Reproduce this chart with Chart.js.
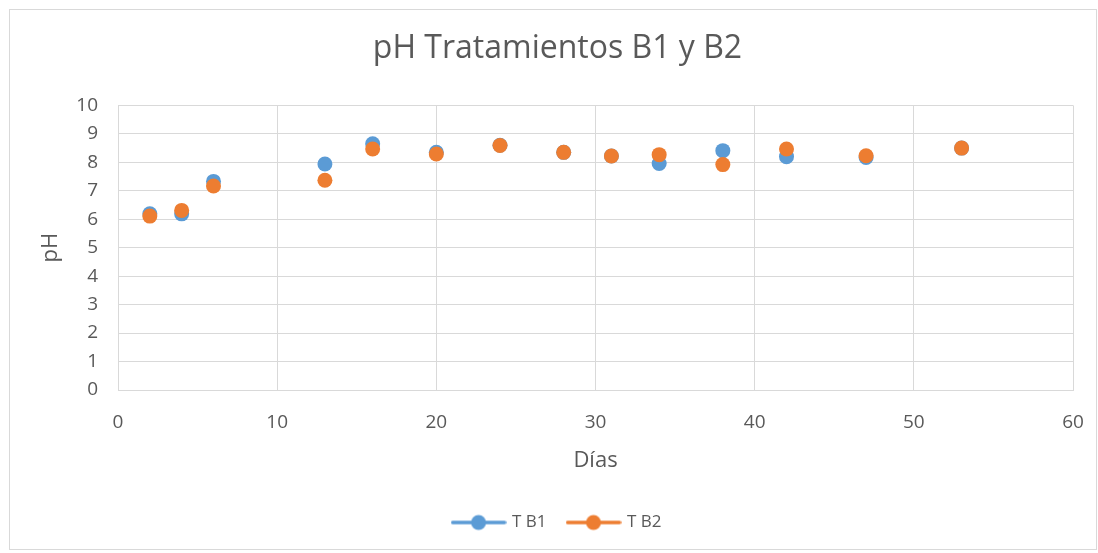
<!DOCTYPE html>
<html>
<head>
<meta charset="utf-8">
<script src="https://cdn.jsdelivr.net/npm/chart.js@4.4.1/dist/chart.umd.min.js"></script>
<style>
  html, body { margin: 0; padding: 0; background: #fff; }
  #marco { position: absolute; left: 9px; top: 9px; width: 1086px; height: 539px; border: 1px solid #d9d9d9; }
  #lienzo { position: absolute; left: 0; top: 0; }
</style>
</head>
<body>
<div id="marco"></div>
<canvas id="lienzo" width="1098" height="553"></canvas>
<script>
// datos
const dias = [2, 4, 6, 13, 16, 20, 24, 28, 31, 34, 38, 42, 47, 53];
const phB1 = [6.19, 6.19, 7.33, 7.94, 8.65, 8.35, 8.6, 8.35, 8.22, 7.96, 8.41, 8.2, 8.17, 8.5];
const phB2 = [6.11, 6.31, 7.17, 7.37, 8.47, 8.29, 8.59, 8.35, 8.22, 8.27, 7.92, 8.47, 8.23, 8.5];
const nombres = ['T B1', 'T B2'];
const colores = ['#5b9bd5', '#ed7d31'];

const fuente = "'Open Sans', 'Liberation Sans', sans-serif";
const gris = '#595959';
const rejilla = '#d9d9d9';

// icono de leyenda: linea con circulo
function iconoLeyenda(color) {
  const c = document.createElement('canvas');
  c.width = 56; c.height = 18;
  const g = c.getContext('2d');
  g.strokeStyle = color;
  g.lineWidth = 3.5;
  g.lineCap = 'round';
  g.beginPath(); g.moveTo(2, 9); g.lineTo(54, 9); g.stroke();
  g.fillStyle = color;
  g.beginPath(); g.arc(28, 9, 7.5, 0, Math.PI * 2); g.fill();
  return c;
}

function puntos(ys) {
  return dias.map((d, i) => ({ x: d, y: ys[i] }));
}

const ctx = document.getElementById('lienzo').getContext('2d');

new Chart(ctx, {
  type: 'scatter',
  data: {
    datasets: [
      {
        label: nombres[0],
        data: puntos(phB1),
        backgroundColor: colores[0],
        borderColor: colores[0],
        pointRadius: 7.5,
        pointBorderWidth: 0,
        order: 2
      },
      {
        label: nombres[1],
        data: puntos(phB2),
        backgroundColor: colores[1],
        borderColor: colores[1],
        pointRadius: 7.5,
        pointBorderWidth: 0,
        order: 1
      }
    ]
  },
  options: {
    responsive: false,
    animation: false,
    layout: { padding: { left: 42, right: 25, top: 10, bottom: 12 } },
    plugins: {
      tooltip: { enabled: false },
      title: {
        display: true,
        text: 'pH Tratamientos B1 y B2',
        color: gris,
        font: { family: fuente, size: 32, weight: 'normal' },
        padding: { top: 20, bottom: 37 }
      },
      legend: {
        position: 'bottom',
        labels: {
          color: gris,
          font: { family: fuente, size: 17 },
          usePointStyle: true,
          pointStyleWidth: 50,
          padding: 22,
          generateLabels: (chart) => chart.data.datasets.map((ds, i) => ({
            text: ds.label,
            pointStyle: iconoLeyenda(colores[i]),
            fillStyle: colores[i],
            strokeStyle: colores[i],
            fontColor: gris,
            lineWidth: 0,
            hidden: false,
            datasetIndex: i
          }))
        }
      }
    },
    scales: {
      x: {
        type: 'linear',
        min: 0,
        max: 60,
        ticks: { stepSize: 10, color: gris, font: { family: fuente, size: 19 }, padding: 9 },
        grid: { color: rejilla, lineWidth: 1, drawTicks: true, tickLength: 12, tickColor: 'rgba(0,0,0,0)' },
        border: { color: rejilla },
        title: {
          display: true,
          text: 'Días',
          color: gris,
          font: { family: fuente, size: 22 },
          padding: { top: 10, bottom: 18 }
        },
        afterFit: (s) => { s.height = 102; }
      },
      y: {
        min: 0,
        max: 10,
        ticks: { stepSize: 1, color: gris, font: { family: fuente, size: 19 }, padding: 20 },
        grid: { color: rejilla, lineWidth: 1, drawTicks: false },
        border: { color: rejilla },
        title: {
          display: true,
          text: 'pH',
          color: gris,
          font: { family: fuente, size: 22 },
          padding: { top: -4, bottom: 0 }
        },
        afterFit: (s) => { s.width = 76; }
      }
    }
  }
});
</script>
</body>
</html>
